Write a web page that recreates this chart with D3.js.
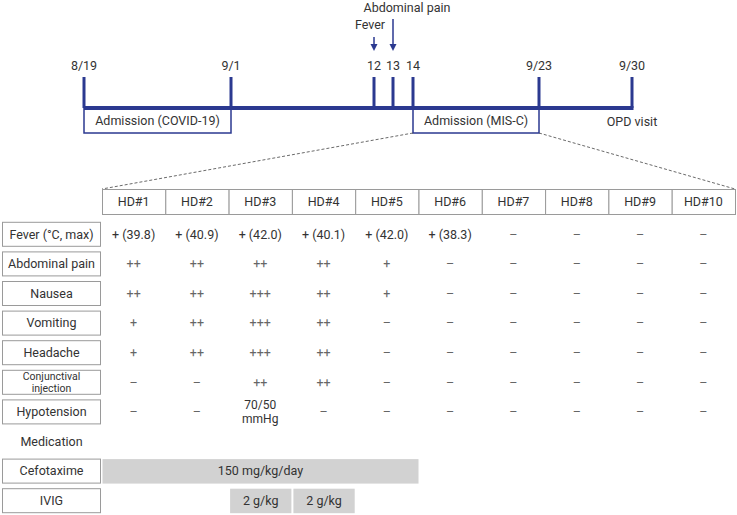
<!DOCTYPE html>
<html><head><meta charset="utf-8">
<script src="https://cdn.jsdelivr.net/npm/d3@7"></script>
<style>
body{margin:0;background:#fff}
svg{display:block}
text{font-family:Roboto,"Noto Sans",sans-serif;fill:#333}
</style></head>
<body><svg id="c" width="737" height="515"></svg>
<script>
// ---------- data ----------
const timelineLabels = ["8/19","9/1","12","13","14","9/23","9/30"];
const timelineDays   = [0, 13, 24, 25, 26, 35, 42];
const eventLabels = ["Fever","Abdominal pain"];
const eventDays   = [24, 25];
const periodLabels = ["Admission (COVID-19)","Admission (MIS-C)"];
const periodStarts = [0, 26];
const periodEnds   = [13, 35];
const opdLabel = "OPD visit";
const opdDay = 42;

const hospitalDays = ["HD#1","HD#2","HD#3","HD#4","HD#5","HD#6","HD#7","HD#8","HD#9","HD#10"];
const symptoms = ["Fever (°C, max)","Abdominal pain","Nausea","Vomiting","Headache","Conjunctival injection","Hypotension"];
const feverValues        = ["+ (39.8)","+ (40.9)","+ (42.0)","+ (40.1)","+ (42.0)","+ (38.3)","–","–","–","–"];
const abdominalValues    = ["++","++","++","++","+","–","–","–","–","–"];
const nauseaValues       = ["++","++","+++","++","+","–","–","–","–","–"];
const vomitingValues     = ["+","++","+++","++","–","–","–","–","–","–"];
const headacheValues     = ["+","++","+++","++","–","–","–","–","–","–"];
const conjunctivalValues = ["–","–","++","++","–","–","–","–","–","–"];
const hypotensionValues  = ["–","–","70/50 mmHg","–","–","–","–","–","–","–"];
const symptomValues = [feverValues, abdominalValues, nauseaValues, vomitingValues, headacheValues, conjunctivalValues, hypotensionValues];

const medicationHeading = "Medication";
const medications = ["Cefotaxime","IVIG"];
const cefotaximeDoses = [{from:"HD#1", to:"HD#5", label:"150 mg/kg/day"}];
const ivigDoses       = [{from:"HD#3", to:"HD#3", label:"2 g/kg"},{from:"HD#4", to:"HD#4", label:"2 g/kg"}];
const medicationDoses = [cefotaximeDoses, ivigDoses];

// ---------- layout ----------
const navy = "#2b3990";
const boxStroke = "#9a9a9a";
const svg = d3.select("#c");

// timeline scale (piecewise, not to scale in original)
const xT = d3.scaleLinear()
  .domain([0, 13, 24, 25, 26, 35, 42])
  .range([84, 231, 374, 393, 413, 539, 632]);
const lineY = 108;

const tl = svg.append("g");
tl.selectAll("rect.period").data(periodLabels).join("rect")
  .attr("x", (d,i)=>xT(periodStarts[i]))
  .attr("y", lineY)
  .attr("width", (d,i)=>xT(periodEnds[i]) - xT(periodStarts[i]))
  .attr("height", 25)
  .attr("fill","none").attr("stroke", navy).attr("stroke-width",1.5);
tl.selectAll("text.period").data(periodLabels).join("text")
  .attr("x",(d,i)=>(xT(periodStarts[i])+xT(periodEnds[i]))/2)
  .attr("y", lineY+13).attr("dy","0.35em")
  .attr("text-anchor","middle").attr("font-size",12.5).text(d=>d);
tl.append("text").attr("x", xT(opdDay)).attr("y", lineY+14).attr("dy","0.35em")
  .attr("text-anchor","middle").attr("font-size",12.5).text(opdLabel);

tl.append("line").attr("x1", xT(timelineDays[0])).attr("x2", xT(timelineDays[timelineDays.length-1])+1.5)
  .attr("y1", lineY).attr("y2", lineY).attr("stroke", navy).attr("stroke-width",4);
tl.selectAll("line.tick").data(timelineDays).join("line")
  .attr("x1", d=>xT(d)).attr("x2", d=>xT(d))
  .attr("y1", 77).attr("y2", lineY).attr("stroke", navy).attr("stroke-width",3);
tl.selectAll("text.tick").data(timelineLabels).join("text")
  .attr("x",(d,i)=>xT(timelineDays[i])).attr("y",66).attr("dy","0.35em")
  .attr("text-anchor","middle").attr("font-size",12.5).text(d=>d);

// event arrows
const eventTop = [37, 19];
const labelDx = [-4, 14];
const labelY = [25, 7.5];
eventLabels.forEach((lab,i)=>{
  const x = xT(eventDays[i]);
  tl.append("line").attr("x1",x).attr("x2",x).attr("y1",eventTop[i]).attr("y2",45)
    .attr("stroke",navy).attr("stroke-width",1.5);
  tl.append("path").attr("d",`M${x-3.5},44 L${x+3.5},44 L${x},51 Z`).attr("fill",navy);
  tl.append("text").attr("x", x+labelDx[i]).attr("y", labelY[i]).attr("dy","0.35em")
    .attr("text-anchor","middle").attr("font-size",12.5).text(lab);
});

// ---------- table ----------
const xC = d3.scaleBand().domain(hospitalDays).range([102, 735]);
const rowNames = symptoms.concat([medicationHeading]).concat(medications);
const yR = d3.scaleBand().domain(rowNames).range([219, 515]);

// dashed zoom lines
const tableTop = 189, headerH = 25;
tl.append("line").attr("x1", xT(periodStarts[1])).attr("y1", lineY+25)
  .attr("x2", xC.range()[0]).attr("y2", tableTop)
  .attr("stroke","#444").attr("stroke-width",0.8).attr("stroke-dasharray","3,2");
tl.append("line").attr("x1", xT(periodEnds[1])).attr("y1", lineY+25)
  .attr("x2", xC.range()[1]).attr("y2", tableTop)
  .attr("stroke","#444").attr("stroke-width",0.8).attr("stroke-dasharray","3,2");

const hdr = svg.append("g");
hdr.selectAll("rect").data(hospitalDays).join("rect")
  .attr("x", d=>xC(d)+0.5).attr("y", tableTop+0.5)
  .attr("width", xC.bandwidth()).attr("height", headerH)
  .attr("fill","#fff").attr("stroke", boxStroke).attr("stroke-width",1);
hdr.selectAll("text").data(hospitalDays).join("text")
  .attr("x", d=>xC(d)+xC.bandwidth()/2).attr("y", tableTop+headerH/2+0.5).attr("dy","0.35em")
  .attr("text-anchor","middle").attr("font-size",12.5).text(d=>d);

const boxH = 24;
// label boxes
const labelRows = symptoms.concat(medications);
const lab = svg.append("g");
lab.selectAll("rect").data(labelRows).join("rect")
  .attr("x", 2.5).attr("y", d=>yR(d)+ (yR.bandwidth()-boxH)/2 + 0.5)
  .attr("width", 98).attr("height", boxH)
  .attr("fill","#fff").attr("stroke", boxStroke).attr("stroke-width",1);
labelRows.forEach(d=>{
  const cy = yR(d)+yR.bandwidth()/2+0.5;
  if (d === "Conjunctival injection") {
    ["Conjunctival","injection"].forEach((w,k)=>{
      lab.append("text").attr("x",51.5).attr("y",cy-6+12*k).attr("dy","0.32em")
        .attr("text-anchor","middle").attr("font-size",10.5).text(w);
    });
  } else {
    lab.append("text").attr("x",51.5).attr("y",cy).attr("dy","0.35em")
      .attr("text-anchor","middle").attr("font-size",12.5).text(d);
  }
});
svg.append("text").attr("x",51.5).attr("y", yR(medicationHeading)+yR.bandwidth()/2+0.5).attr("dy","0.35em")
  .attr("text-anchor","middle").attr("font-size",12.5).text(medicationHeading);

// symptom cells
const cells = svg.append("g");
symptoms.forEach((s,ri)=>{
  const cy = yR(s)+yR.bandwidth()/2+0.5;
  symptomValues[ri].forEach((v,ci)=>{
    const cx = xC(hospitalDays[ci])+xC.bandwidth()/2;
    const isSign = /^[+–]+$/.test(v);
    const fill = isSign ? "#666" : "#333";
    if (v === "70/50 mmHg") {
      ["70/50","mmHg"].forEach((w,k)=>{
        cells.append("text").attr("x",cx).attr("y",cy-7+14*k).attr("dy","0.32em")
          .attr("text-anchor","middle").attr("font-size",12).style("fill",fill).text(w);
      });
    } else {
      cells.append("text").attr("x",cx).attr("y",cy).attr("dy","0.35em")
        .attr("text-anchor","middle").attr("font-size",12.5).style("fill",fill).text(v);
    }
  });
});

// medication bars
const meds = svg.append("g");
medications.forEach((m,mi)=>{
  const y0 = yR(m)+(yR.bandwidth()-boxH)/2+0.5;
  medicationDoses[mi].forEach(dz=>{
    const x0 = xC(dz.from)+ (dz.from===dz.to ? 1.5 : 0.5);
    const x1 = xC(dz.to)+xC.bandwidth() - (dz.from===dz.to ? 0.5 : 0);
    meds.append("rect").attr("x",x0).attr("y",y0).attr("width",x1-x0).attr("height",boxH+0.5)
      .attr("fill","#d2d2d2");
    meds.append("text").attr("x",(x0+x1)/2).attr("y",y0+boxH/2).attr("dy","0.35em")
      .attr("text-anchor","middle").attr("font-size",12.5).text(dz.label);
  });
});
</script>
</body></html>
